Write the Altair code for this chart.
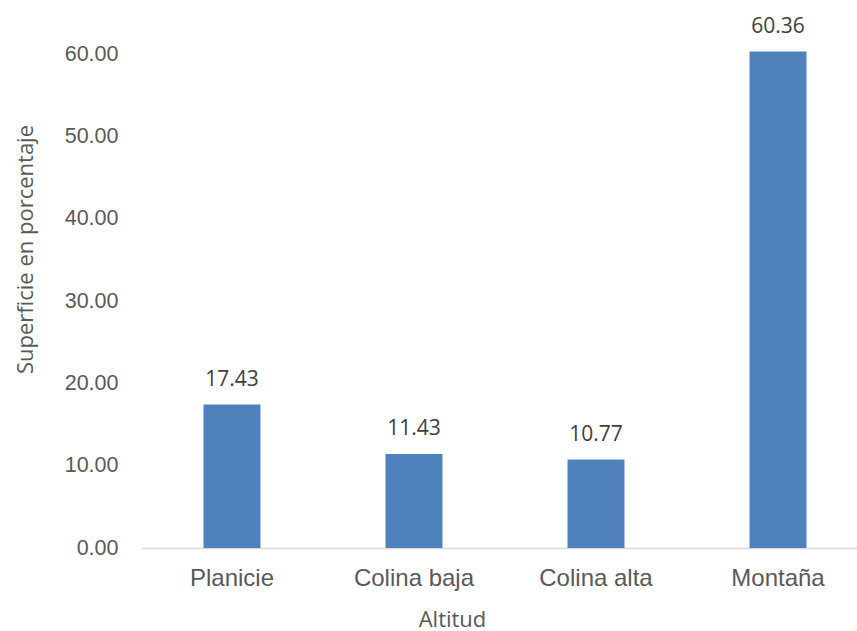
import altair as alt
import pandas as pd

categories = ["Planicie", "Colina baja", "Colina alta", "Montaña"]
values = [17.43, 11.43, 10.77, 60.36]
y_ticks = [0, 10, 20, 30, 40, 50, 60]

df = pd.DataFrame({"Altitud": categories, "Superficie": values})

x_enc = alt.X(
    "Altitud:N",
    sort=categories,
    scale=alt.Scale(paddingInner=0.687, paddingOuter=0.3104, align=0.553),
    axis=alt.Axis(
        title="Altitud",
        labelAngle=0,
        labelFont="Liberation Sans",
        labelFontSize=24,
        labelColor="#595959",
        labelBaseline="alphabetic",
        labelPadding=37,
        ticks=False,
        tickSize=0,
        domainColor="#d9d9d9",
        domainWidth=1.5,
        titleFont="Open Sans",
        titleFontSize=22,
        titleFontWeight="normal",
        titleColor="#595959",
        titleX=311,
        titleY=78,
        titleBaseline="alphabetic",
        titleAlign="center",
        titleAnchor="start",
    ),
)

y_enc = alt.Y(
    "Superficie:Q",
    scale=alt.Scale(domain=[0, 66], nice=False, zero=True),
    axis=alt.Axis(
        title="Superficie en porcentaje",
        values=y_ticks,
        format=".2f",
        labelFont="Liberation Sans",
        labelFontSize=21.5,
        labelColor="#595959",
        labelPadding=23,
        ticks=False,
        tickSize=0,
        domain=False,
        grid=False,
        titleFont="Open Sans",
        titleFontSize=22,
        titleFontWeight="normal",
        titleColor="#595959",
        titleAngle=-90,
        titleX=-116,
        titleY=244,
        titleBaseline="middle",
        titleAlign="center",
        titleAnchor="start",
    ),
)

bars = alt.Chart(df).mark_bar(color="#4F81BD").encode(x=x_enc, y=y_enc)

labels = alt.Chart(df).mark_text(
    font="Open Sans",
    fontSize=21,
    color="#404040",
    baseline="alphabetic",
    dy=-18.5,
).encode(
    x=alt.X("Altitud:N", sort=categories),
    y=alt.Y("Superficie:Q"),
    text=alt.Text("Superficie:Q", format=".2f"),
)

chart = (
    alt.layer(bars, labels)
    .properties(
        width=716,
        height=543,
        autosize=alt.AutoSizeParams(type="none"),
        padding={"left": 141, "top": 5, "right": 0, "bottom": 83},
        background="white",
    )
    .configure_view(stroke=None)
)

chart.save("out.html", embed_options={"renderer": "svg", "actions": False})
